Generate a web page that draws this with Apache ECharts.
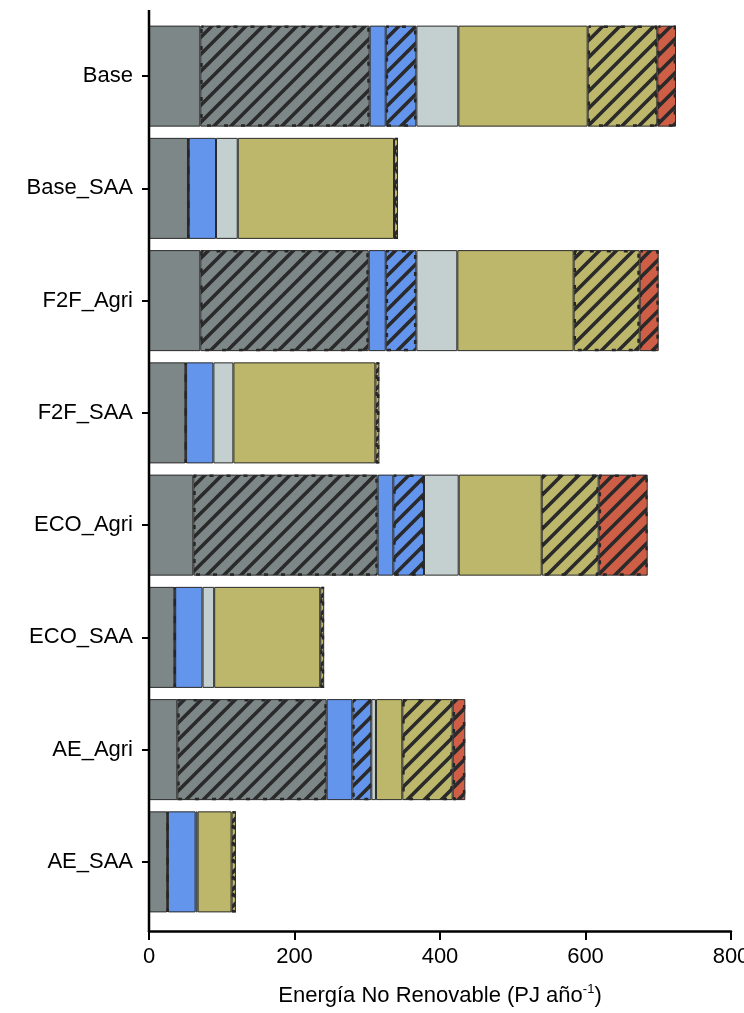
<!DOCTYPE html>
<html>
<head>
<meta charset="utf-8">
<script src="https://cdn.jsdelivr.net/npm/echarts@6/dist/echarts.min.js"></script>
<style>
  html, body { margin: 0; padding: 0; background: #fff; }
  #chart { width: 744px; height: 1013px; }
</style>
</head>
<body>
<div id="chart"></div>
<script>
// Scenarios (top to bottom)
const categories = ['Base', 'Base_SAA', 'F2F_Agri', 'F2F_SAA', 'ECO_Agri', 'ECO_SAA', 'AE_Agri', 'AE_SAA'];

// Non-renewable energy per component (PJ/yr), stacked left to right
const greySolid  = [70.5, 53.6, 70.5, 50.0, 60.9, 35.0, 38.9, 25.0];
const greyHatch  = [232.8, 1.0, 231.5, 1.0, 253.4, 1.0, 205.3, 1.0];
const blueSolid  = [22.1, 37.5, 23.4, 37.5, 21.5, 37.6, 35.3, 38.1];
const blueHatch  = [42.1, 0, 42.1, 0, 42.2, 0, 26.1, 0];
const lightGrey  = [57.7, 29.9, 56.3, 27.5, 47.7, 16.0, 6.4, 2.7];
const khakiSolid = [177.8, 214.8, 159.9, 195.2, 114.1, 145.8, 36.2, 46.7];
const khakiHatch = [95.7, 5.5, 90.8, 5.5, 78.3, 5.4, 69.2, 6.0];
const redHatch   = [25.7, 0, 26.1, 0, 67.4, 0, 17.4, 0];

const xTicks = [0, 200, 400, 600, 800];

const FONT = "'Liberation Sans', Arial, sans-serif";
const FS = 22;
const GRID = { left: 149, right: 13, top: 20, bottom: 95 };

// Diagonal "/" hatch tile over a base colour
function hatch(base) {
  const s = 17;
  const c = document.createElement('canvas');
  c.width = s; c.height = s;
  const g = c.getContext('2d');
  g.fillStyle = base;
  g.fillRect(0, 0, s, s);
  g.strokeStyle = '#2a2a2a';
  g.lineWidth = 3.6;
  g.lineCap = 'square';
  for (const k of [0, s, 2 * s]) {
    g.beginPath();
    g.moveTo(k + 2, -2);
    g.lineTo(k - s - 2, s + 2);
    g.stroke();
  }
  return { image: c, repeat: 'repeat' };
}

const segments = [
  { name: 'greySolid',  data: greySolid,  color: '#7e8787', hatched: false },
  { name: 'greyHatch',  data: greyHatch,  color: '#7e8787', hatched: true },
  { name: 'blueSolid',  data: blueSolid,  color: '#6495ed', hatched: false },
  { name: 'blueHatch',  data: blueHatch,  color: '#6495ed', hatched: true },
  { name: 'lightGrey',  data: lightGrey,  color: '#c4cfcf', hatched: false },
  { name: 'khakiSolid', data: khakiSolid, color: '#bdb76b', hatched: false },
  { name: 'khakiHatch', data: khakiHatch, color: '#bdb76b', hatched: true },
  { name: 'redHatch',   data: redHatch,   color: '#cf5e47', hatched: true }
];

const toData = arr => arr.map(v => (v > 0 ? v : null));

const series = [];
// Filled segments with thin dark outline
segments.forEach(s => {
  series.push({
    name: s.name,
    type: 'bar',
    stack: 'fill',
    barCategoryGap: '10%',
    barGap: '-100%',
    data: toData(s.data),
    itemStyle: {
      color: s.hatched ? hatch(s.color) : s.color,
      borderColor: '#2a2a2a',
      borderWidth: 1
    },
    silent: true,
    z: 2
  });
});
// Dotted outline over the hatched segments
segments.forEach(s => {
  series.push({
    name: s.name + '_edge',
    type: 'bar',
    stack: 'edge',
    barCategoryGap: '10%',
    barGap: '-100%',
    data: toData(s.data),
    itemStyle: s.hatched
      ? { color: 'rgba(0,0,0,0)', borderColor: '#262626', borderWidth: 2.4, borderType: [4, 13], borderDashOffset: 2 }
      : { color: 'rgba(0,0,0,0)', borderWidth: 0 },
    silent: true,
    z: 3
  });
});

const chart = echarts.init(document.getElementById('chart'), null, { renderer: 'canvas' });

chart.setOption({
  animation: false,
  backgroundColor: '#ffffff',
  grid: Object.assign({ containLabel: false, outerBoundsMode: 'none' }, GRID),
  xAxis: {
    type: 'value',
    min: xTicks[0],
    max: xTicks[xTicks.length - 1],
    interval: xTicks[1] - xTicks[0],
    offset: 13,
    splitLine: { show: false },
    axisLine: { show: true, lineStyle: { color: '#000', width: 2.5 } },
    axisTick: { show: true, length: 9, lineStyle: { color: '#000', width: 2 } },
    axisLabel: { color: '#000', fontSize: FS, fontFamily: FONT, margin: 15, hideOverlap: false },
    name: 'Energía No Renovable (PJ año{sup|-1})',
    nameLocation: 'middle',
    nameGap: 52,
    nameTextStyle: {
      color: '#000', fontSize: FS, fontFamily: FONT,
      rich: { sup: { color: '#000', fontSize: 13, fontFamily: FONT, padding: [0, 0, 12, 0] } }
    }
  },
  yAxis: {
    type: 'category',
    data: categories,
    inverse: true,
    axisLine: { show: false },
    axisTick: { show: true, alignWithLabel: true, length: 7, lineStyle: { color: '#000', width: 2 } },
    axisLabel: { color: '#000', fontSize: FS, fontFamily: FONT, margin: 16 },
    splitLine: { show: false }
  },
  series: series
});

// Vertical axis line, running from above the first bar down to the horizontal axis
const x0 = chart.convertToPixel({ xAxisIndex: 0 }, 0);
const h = chart.getHeight();
chart.setOption({
  graphic: [{
    type: 'line',
    z: 100,
    shape: { x1: x0, y1: 10, x2: x0, y2: h - GRID.bottom + 14 },
    style: { stroke: '#000', lineWidth: 2.5 }
  }]
});
</script>
</body>
</html>
